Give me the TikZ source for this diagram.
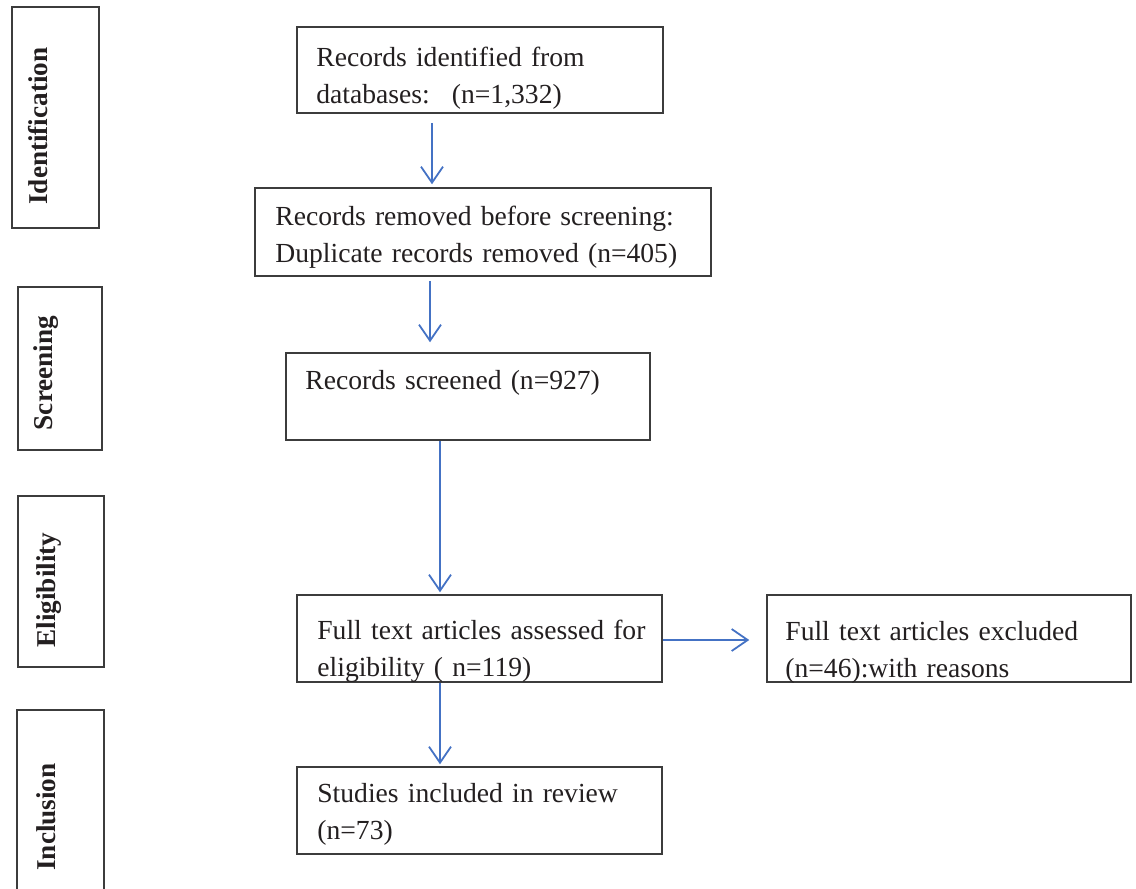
\documentclass[tikz,border=0pt]{standalone}
\usepackage{fontspec}
\setmainfont{Liberation Serif}
\usepackage{tikz}
\usetikzlibrary{arrows.meta,positioning}
\definecolor{flowBlue}{RGB}{68,114,196}
\definecolor{boxGray}{RGB}{60,60,60}
\definecolor{txtDark}{RGB}{35,31,32}

\begin{document}
\begin{tikzpicture}[x=0.5pt,y=-0.5pt,
  box/.style={draw=boxGray, line width=0.75pt, inner sep=0pt},
  boxtext/.style={anchor=base west, inner sep=0pt, text=txtDark, text width=230pt, align=left, font=\fontsize{13.8}{18.5}\selectfont},
  stagetext/.style={anchor=base, rotate=90, inner sep=0pt, text=txtDark, font=\fontsize{13.6}{16}\selectfont\bfseries},
  flow/.style={-{Straight Barb[length=8pt,width=11pt]}, flowBlue, line width=0.9pt}]
\useasboundingbox (0,0) rectangle (1136,889);
% stage boxes on the left
\node[box, minimum width=43.5pt, minimum height=110.5pt] (sIdent) at (55.5,117.5) {};
\node[stagetext] (lIdent) at (47,126) {Identification};
\node[box, minimum width=42pt, minimum height=81.5pt] (sScreen) at (60,368.5) {};
\node[stagetext] (lScreen) at (52,373) {Screening};
\node[box, minimum width=43pt, minimum height=85.5pt] (sElig) at (61,581.5) {};
\node[stagetext] (lElig) at (55,590) {Eligibility};
\node[box, minimum width=43.5pt, minimum height=92.5pt] (sIncl) at (60.5,802.5) {};
\node[stagetext] (lIncl) at (55,817) {Inclusion};
% flow boxes
\node[box, minimum width=183pt, minimum height=43pt] (bIdent) at (480,70) {};
\node[boxtext] (tIdent) at (316,66) {Records identified from\\databases:\hspace{0.8em}(n=1,332)};
\node[box, minimum width=228pt, minimum height=44pt] (bDup) at (483,232) {};
\node[boxtext] (tDup) at (275,225) {Records removed before screening:\\Duplicate records removed (n=405)};
\node[box, minimum width=182pt, minimum height=43.5pt] (bScreen) at (468,396.5) {};
\node[boxtext] (tScreen) at (305,389) {Records screened (n=927)};
\node[box, minimum width=182.5pt, minimum height=43.5pt] (bFull) at (479.5,638.5) {};
\node[boxtext] (tFull) at (317,639) {Full text articles assessed for\\eligibility ( n=119)};
\node[box, minimum width=182pt, minimum height=43.5pt] (bExcl) at (949,638.5) {};
\node[boxtext] (tExcl) at (785,640) {Full text articles excluded\\(n=46):with reasons};
\node[box, minimum width=182.5pt, minimum height=43.5pt] (bIncl) at (479.5,810.5) {};
\node[boxtext] (tIncl) at (317,802) {Studies included in review\\(n=73)};
% arrows
\draw[flow, shorten <=4.5pt, shorten >=1.5pt] (bIdent.south -| 432,0) -- (bDup.north -| 432,0);
\draw[flow, shorten <=2pt, shorten >=5pt] (bDup.south -| 430,0) -- (bScreen.north -| 430,0);
\draw[flow, shorten >=1pt] (bScreen.south -| 440,0) -- (bFull.north -| 440,0);
\draw[flow, shorten >=1pt] (bFull.south -| 440,0) -- (bIncl.north -| 440,0);
\draw[flow, shorten >=8.5pt] (bFull.east |- 0,640) -- (bExcl.west |- 0,640);
\end{tikzpicture}
\end{document}
